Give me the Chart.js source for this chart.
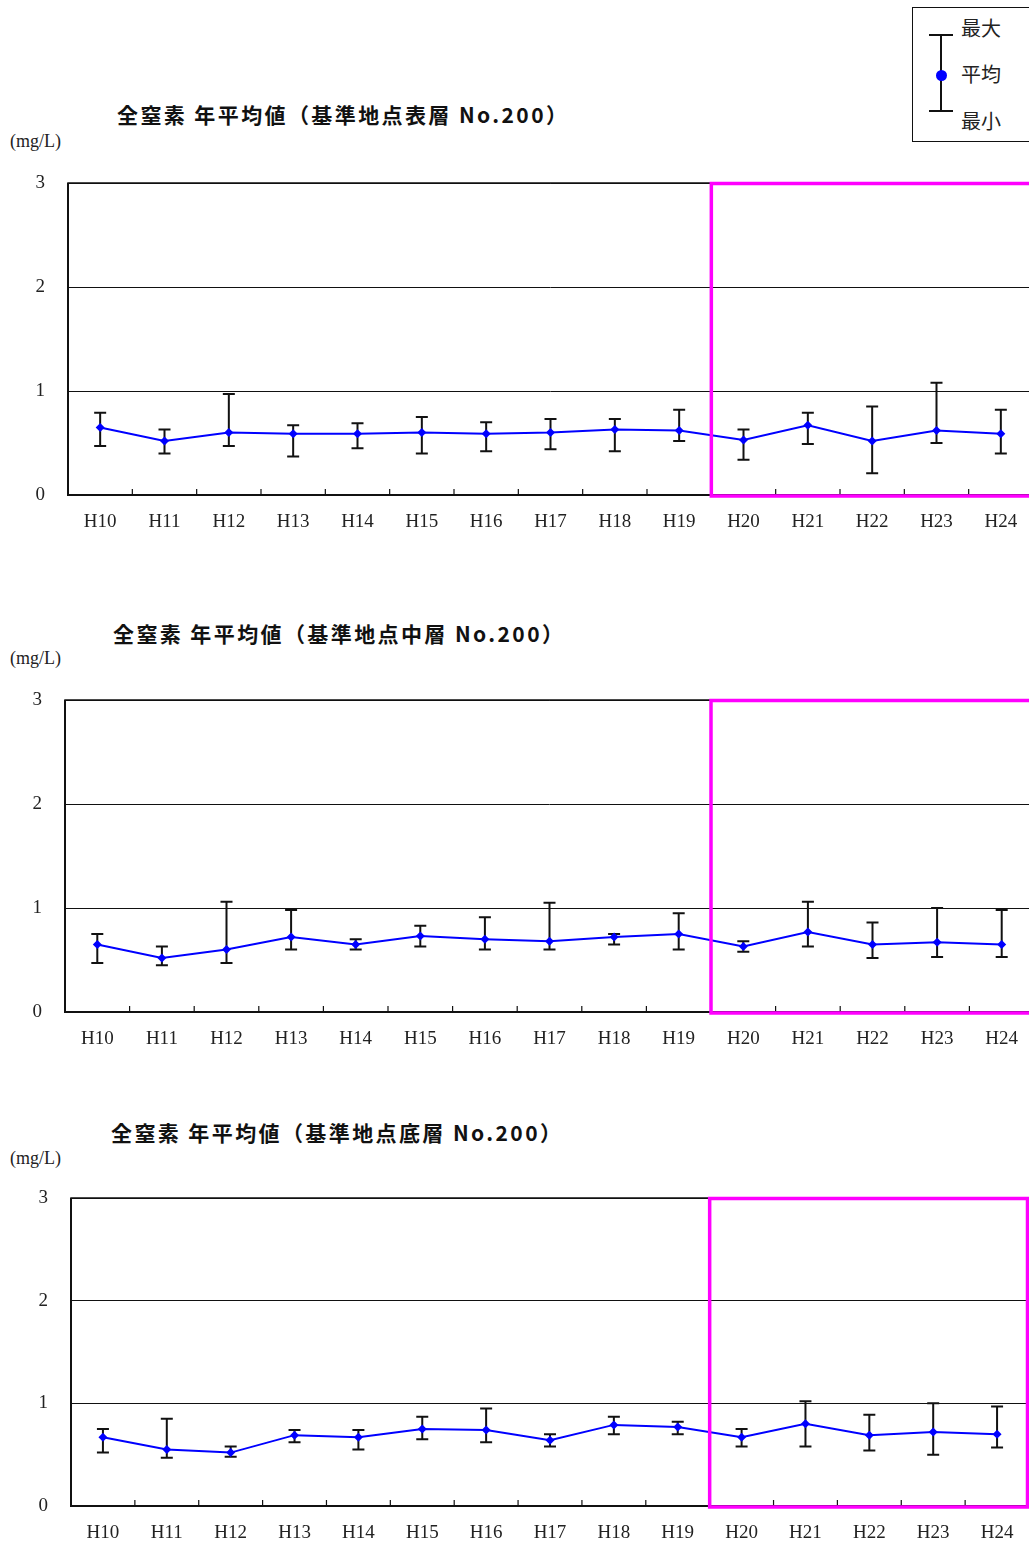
<!DOCTYPE html>
<html>
<head>
<meta charset="utf-8">
<script src="https://cdn.jsdelivr.net/npm/chart.js@4.4.0/dist/chart.umd.min.js"></script>
<style>
  html, body { margin: 0; padding: 0; width: 1029px; height: 1546px; overflow: hidden; background: #fff; }
  .title { position: absolute; font-family: "Noto Sans CJK JP", sans-serif; font-weight: 700; font-size: 21px;
           line-height: 21px; letter-spacing: 2.4px; color: #111; white-space: nowrap; }
  .unit { position: absolute; left: 10px; font-family: "Liberation Serif", serif; font-size: 18px; line-height: 18px; color: #222; }
  canvas { position: absolute; left: 0; }
  #legend { position: absolute; left: 912px; top: 7px; width: 130px; height: 133px; border: 1px solid #111; }
  #legend div { position: absolute; }
  .lg-text { left: 48px; font-family: "Noto Sans CJK JP", sans-serif; font-size: 20px; line-height: 20px; color: #222; }
</style>
</head>
<body>

<div id="legend">
  <div style="left:27px;top:26px;width:2px;height:78px;background:#111"></div>
  <div style="left:16px;top:26px;width:24px;height:2px;background:#111"></div>
  <div style="left:16px;top:102px;width:24px;height:2px;background:#111"></div>
  <div style="left:23px;top:62px;width:11px;height:11px;border-radius:50%;background:#0000ff"></div>
  <div class="lg-text" style="top:10px">最大</div>
  <div class="lg-text" style="top:56px">平均</div>
  <div class="lg-text" style="top:103px">最小</div>
</div>

<div class="title" style="left:117px;top:104px">全窒素 年平均値（基準地点表層 No.200）</div>
<div class="unit" style="top:132px">(mg/L)</div>
<canvas id="surface" width="1040" height="370" style="top:170px"></canvas>

<div class="title" style="left:113px;top:623px">全窒素 年平均値（基準地点中層 No.200）</div>
<div class="unit" style="top:649px">(mg/L)</div>
<canvas id="middle" width="1040" height="370" style="top:687px"></canvas>

<div class="title" style="left:111px;top:1122px">全窒素 年平均値（基準地点底層 No.200）</div>
<div class="unit" style="top:1149px">(mg/L)</div>
<canvas id="bottom" width="1040" height="366" style="top:1185px"></canvas>

<script>
const years = ['H10','H11','H12','H13','H14','H15','H16','H17','H18','H19','H20','H21','H22','H23','H24'];
const yTicks = [0, 1, 2, 3];

// 表層
const surfaceMean = [0.65,0.52,0.60,0.59,0.59,0.60,0.59,0.60,0.63,0.62,0.53,0.67,0.52,0.62,0.59];
const surfaceMax  = [0.79,0.63,0.97,0.67,0.69,0.75,0.70,0.73,0.73,0.82,0.63,0.79,0.85,1.08,0.82];
const surfaceMin  = [0.47,0.40,0.47,0.37,0.45,0.40,0.42,0.44,0.42,0.52,0.34,0.49,0.21,0.50,0.40];

// 中層
const middleMean = [0.65,0.52,0.60,0.72,0.65,0.73,0.70,0.68,0.72,0.75,0.63,0.77,0.65,0.67,0.65];
const middleMax  = [0.75,0.63,1.06,0.98,0.70,0.83,0.91,1.05,0.75,0.95,0.68,1.06,0.86,1.00,0.98];
const middleMin  = [0.47,0.45,0.47,0.60,0.60,0.63,0.60,0.60,0.65,0.60,0.58,0.63,0.52,0.53,0.53];

// 底層
const bottomMean = [0.67,0.55,0.52,0.69,0.67,0.75,0.74,0.64,0.79,0.77,0.67,0.80,0.69,0.72,0.70];
const bottomMax  = [0.75,0.85,0.58,0.74,0.74,0.87,0.95,0.70,0.87,0.82,0.75,1.02,0.89,1.00,0.97];
const bottomMin  = [0.52,0.47,0.48,0.62,0.55,0.65,0.62,0.58,0.70,0.70,0.58,0.58,0.54,0.50,0.57];

// first category inside the pink box (H20)
const highlightFrom = 10;

const tickFont = { family: '"Liberation Serif", serif', size: 19 };

const errorBars = {
  id: 'errorBars',
  beforeDatasetsDraw(chart, args, opts) {
    const { ctx, scales: { x, y } } = chart;
    ctx.save();
    ctx.strokeStyle = '#111';
    ctx.lineWidth = 2;
    opts.max.forEach((hi, i) => {
      const px = x.getPixelForValue(i);
      const top = y.getPixelForValue(hi);
      const bot = y.getPixelForValue(opts.min[i]);
      ctx.beginPath();
      ctx.moveTo(px, top); ctx.lineTo(px, bot);
      ctx.moveTo(px - 6, top); ctx.lineTo(px + 6, top);
      ctx.moveTo(px - 6, bot); ctx.lineTo(px + 6, bot);
      ctx.stroke();
    });
    ctx.restore();
  },
  afterDraw(chart) {
    const { ctx, chartArea: a, scales: { x } } = chart;
    ctx.save();
    // frame
    ctx.strokeStyle = '#111';
    ctx.lineWidth = 1.5;
    ctx.strokeRect(a.left, a.top, a.right - a.left, a.bottom - a.top);
    ctx.lineWidth = 2;
    ctx.beginPath();
    ctx.moveTo(a.left, a.top); ctx.lineTo(a.left, a.bottom); ctx.lineTo(a.right, a.bottom);
    ctx.stroke();
    // small ticks between categories
    ctx.lineWidth = 1.2;
    ctx.beginPath();
    for (let i = 0; i < years.length - 1; i++) {
      const px = x.getPixelForValue(i + 0.5);
      ctx.moveTo(px, a.bottom); ctx.lineTo(px, a.bottom - 6);
    }
    ctx.stroke();
    // pink box H20-H24
    const left = x.getPixelForValue(highlightFrom - 0.5);
    ctx.strokeStyle = '#ff00ff';
    ctx.lineWidth = 3.5;
    ctx.strokeRect(left, a.top + 0.5, a.right - 1.5 - left, a.bottom - a.top + 0.5);
    ctx.restore();
  }
};

function makeChart(id, mean, max, min, left, right) {
  new Chart(document.getElementById(id), {
    type: 'line',
    data: {
      labels: years,
      datasets: [{
        data: mean,
        borderColor: '#0000ff',
        backgroundColor: '#0000ff',
        borderWidth: 2,
        pointStyle: 'rectRot',
        pointRadius: 4.5,
        pointBorderWidth: 0,
        tension: 0
      }]
    },
    options: {
      responsive: false,
      animation: false,
      events: [],
      layout: { padding: { top: 13, right: 1040 - right, bottom: 0, left: 0 } },
      plugins: {
        legend: { display: false },
        tooltip: { enabled: false },
        errorBars: { max: max, min: min }
      },
      scales: {
        x: {
          offset: true,
          grid: { display: false, drawTicks: false },
          border: { display: false },
          ticks: { font: tickFont, color: '#222', padding: 16, maxRotation: 0, autoSkip: false },
          afterFit: s => { s.height = 45; s.paddingLeft = 0; s.paddingRight = 0; }
        },
        y: {
          min: 0, max: 3,
          afterBuildTicks: s => { s.ticks = yTicks.map(v => ({ value: v })); },
          grid: { color: '#111', lineWidth: 1, drawTicks: false },
          border: { display: false },
          ticks: { font: tickFont, color: '#222', padding: 23 },
          afterFit: s => { s.width = left; s.paddingTop = 0; s.paddingBottom = 0; }
        }
      }
    },
    plugins: [errorBars]
  });
}

makeChart('surface', surfaceMean, surfaceMax, surfaceMin, 68, 1033);
makeChart('middle', middleMean, middleMax, middleMin, 65, 1034);
makeChart('bottom', bottomMean, bottomMax, bottomMin, 71, 1029);
</script>
</body>
</html>
